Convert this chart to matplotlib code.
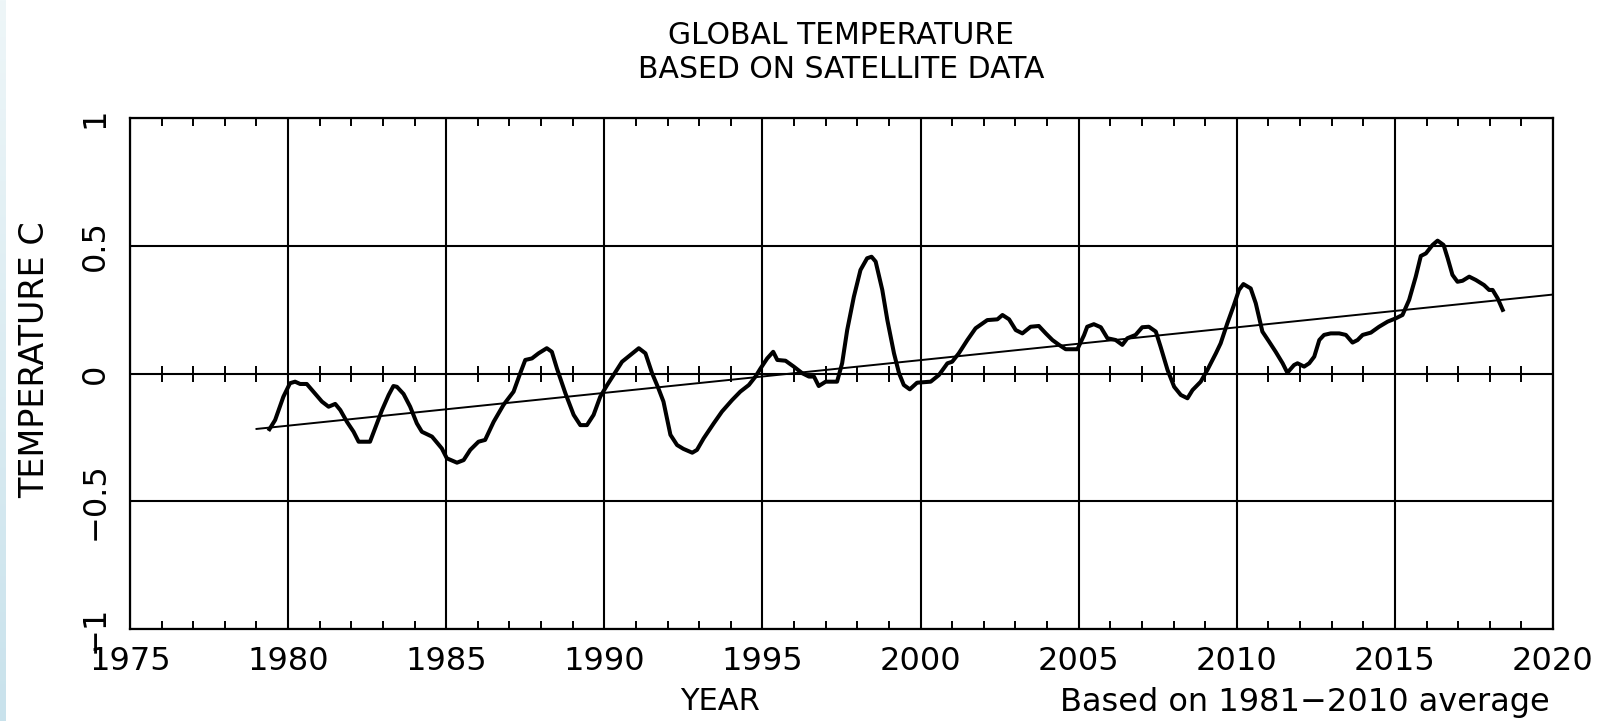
""" Global temperature from satellite data, smoothed curve plus linear trend. """

import numpy as np
import matplotlib
matplotlib.use("Agg")
import matplotlib.pyplot as plt

# smoothed curve (year, deg C)
years = [1979.41, 1979.59, 1979.85, 1980.06, 1980.22, 1980.38, 1980.59, 1980.80,
         1981.07, 1981.28, 1981.49, 1981.65, 1981.86, 1982.07, 1982.23, 1982.59,
         1982.75, 1982.97, 1983.18, 1983.33, 1983.44, 1983.65, 1983.86, 1984.07,
         1984.23, 1984.55, 1984.86, 1985.02, 1985.34, 1985.55, 1985.76, 1986.02,
         1986.23, 1986.50, 1986.81, 1987.13, 1987.34, 1987.50, 1987.71, 1987.92,
         1988.18, 1988.34, 1988.50, 1988.77, 1989.03, 1989.24, 1989.45, 1989.66,
         1989.87, 1990.09, 1990.29, 1990.56, 1990.82, 1991.09, 1991.30, 1991.51,
         1991.70, 1991.87, 1992.09, 1992.30, 1992.50, 1992.78, 1992.93, 1993.14,
         1993.46, 1993.72, 1994.04, 1994.30, 1994.57, 1994.78, 1994.94, 1995.15,
         1995.34, 1995.47, 1995.73, 1995.99, 1996.26, 1996.47, 1996.63, 1996.78,
         1997.00, 1997.36, 1997.52, 1997.68, 1997.89, 1998.10, 1998.31, 1998.45,
         1998.58, 1998.79, 1998.95, 1999.16, 1999.32, 1999.47, 1999.66, 1999.89,
         2000.32, 2000.58, 2000.85, 2001.00, 2001.21, 2001.48, 2001.74, 2002.11,
         2002.43, 2002.59, 2002.80, 2003.01, 2003.22, 2003.48, 2003.74, 2003.96,
         2004.17, 2004.38, 2004.59, 2004.96, 2005.17, 2005.27, 2005.48, 2005.70,
         2005.91, 2006.17, 2006.38, 2006.54, 2006.80, 2007.01, 2007.22, 2007.44,
         2007.59, 2007.81, 2008.02, 2008.23, 2008.44, 2008.60, 2008.86, 2009.07,
         2009.34, 2009.49, 2009.70, 2009.91, 2010.07, 2010.21, 2010.44, 2010.60,
         2010.81, 2011.02, 2011.23, 2011.45, 2011.60, 2011.81, 2011.92, 2012.13,
         2012.29, 2012.45, 2012.61, 2012.76, 2012.97, 2013.24, 2013.45, 2013.66,
         2013.82, 2013.98, 2014.24, 2014.50, 2014.77, 2015.03, 2015.24, 2015.45,
         2015.66, 2015.82, 2015.98, 2016.19, 2016.35, 2016.54, 2016.67, 2016.82,
         2016.98, 2017.14, 2017.35, 2017.56, 2017.82, 2017.98, 2018.09, 2018.25,
         2018.41]
temps = [-0.218, -0.182, -0.091, -0.038, -0.032, -0.041, -0.041, -0.071,
         -0.110, -0.130, -0.119, -0.143, -0.189, -0.228, -0.267, -0.267,
         -0.215, -0.143, -0.084, -0.049, -0.052, -0.080, -0.130, -0.195,
         -0.228, -0.247, -0.293, -0.332, -0.349, -0.339, -0.299, -0.267,
         -0.260, -0.189, -0.123, -0.071, 0.001, 0.053, 0.059, 0.079,
         0.099, 0.085, 0.020, -0.078, -0.162, -0.202, -0.202, -0.162,
         -0.091, -0.045, -0.006, 0.046, 0.072, 0.099, 0.079, 0.001,
         -0.055, -0.110, -0.240, -0.280, -0.295, -0.310, -0.299, -0.254,
         -0.195, -0.149, -0.104, -0.071, -0.045, -0.012, 0.020, 0.059,
         0.085, 0.053, 0.050, 0.027, 0.001, -0.012, -0.012, -0.049,
         -0.032, -0.032, 0.040, 0.170, 0.300, 0.405, 0.451, 0.457,
         0.438, 0.327, 0.209, 0.079, 0.001, -0.045, -0.062, -0.036,
         -0.032, -0.006, 0.040, 0.046, 0.079, 0.131, 0.177, 0.209,
         0.212, 0.229, 0.212, 0.170, 0.157, 0.183, 0.186, 0.157,
         0.131, 0.112, 0.095, 0.095, 0.150, 0.183, 0.193, 0.181,
         0.138, 0.131, 0.112, 0.138, 0.151, 0.181, 0.183, 0.164,
         0.105, 0.014, -0.052, -0.084, -0.097, -0.065, -0.032, 0.014,
         0.079, 0.118, 0.196, 0.268, 0.327, 0.350, 0.333, 0.275,
         0.164, 0.125, 0.085, 0.040, 0.003, 0.033, 0.040, 0.027,
         0.040, 0.066, 0.131, 0.151, 0.157, 0.157, 0.151, 0.121,
         0.131, 0.151, 0.160, 0.183, 0.203, 0.216, 0.229, 0.288,
         0.379, 0.460, 0.470, 0.503, 0.520, 0.503, 0.451, 0.386,
         0.359, 0.363, 0.379, 0.366, 0.346, 0.327, 0.327, 0.294,
         0.249]

# linear trend end points
trend_years = [1979.0, 2020.0]
trend_temps = [-0.217, 0.309]

x_ticks = [1975, 1980, 1985, 1990, 1995, 2000, 2005, 2010, 2015, 2020]
x_labels = [str(y) for y in x_ticks]
minor_years = list(range(1976, 2020))
y_ticks = [-1, -0.5, 0, 0.5, 1]
y_labels = ["\u22121", "\u22120.5", "0", "0.5", "1"]

W, H = 1613, 721
fig = plt.figure(figsize=(W / 100, H / 100), dpi=100)
fig.patch.set_facecolor("white")

# light blue strip on the left edge
strip = fig.add_axes([0, 0, 6 / W, 1])
grad = np.linspace(0, 1, 256).reshape(-1, 1)
strip.imshow(grad, aspect="auto", cmap=matplotlib.colors.LinearSegmentedColormap.from_list(
    "edge", ["#eef6f8", "#c9e2ec"]))
strip.axis("off")
top = fig.add_axes([0, 1 - 3 / H, 1, 3 / H])
top.set_facecolor("#eef5f7")
top.axis("off")
top.patch.set_visible(True)

ax = fig.add_axes([130 / W, 1 - 629 / H, (1553 - 130) / W, (629 - 118) / H])
ax.set_xlim(1975, 2020)
ax.set_ylim(-1, 1)

ax.set_xticks(x_ticks)
ax.set_xticklabels(x_labels, fontsize=23)
ax.set_xticks(minor_years, minor=True)
ax.set_yticks(y_ticks)
ax.set_yticklabels(y_labels, fontsize=23, rotation=90, va="center")

ax.tick_params(axis="x", which="major", length=0, pad=12)
ax.tick_params(axis="x", which="minor", direction="in", top=True, bottom=True,
               length=6, width=1.4)
ax.tick_params(axis="y", which="major", length=0, pad=14)
ax.grid(True, color="black", linewidth=1.5)
for s in ax.spines.values():
    s.set_linewidth(1.6)

# year ticks crossing the zero line
ax.plot(minor_years, [0] * len(minor_years), linestyle="none", marker="|",
        markersize=12, markeredgewidth=1.4, color="black")

ax.plot(trend_years, trend_temps, color="black", linewidth=1.4)
ax.plot(years, temps, color="black", linewidth=2.9, solid_joinstyle="round")

fig.text(841 / W, 1 - 36 / H, "GLOBAL TEMPERATURE", ha="center", va="center", fontsize=21.5)
fig.text(841 / W, 1 - 70 / H, "BASED ON SATELLITE DATA", ha="center", va="center", fontsize=21.5)
fig.text(35 / W, 1 - 360 / H, "TEMPERATURE C", ha="center", va="center", rotation=90,
         fontsize=24)
fig.text(720 / W, 1 - 702 / H, "YEAR", ha="center", va="center", fontsize=22)
fig.text(1550 / W, 1 - 702 / H, "Based on 1981\u22122010 average", ha="right", va="center",
         fontsize=23)

plt.savefig("out.png", dpi=100)
plt.close()
